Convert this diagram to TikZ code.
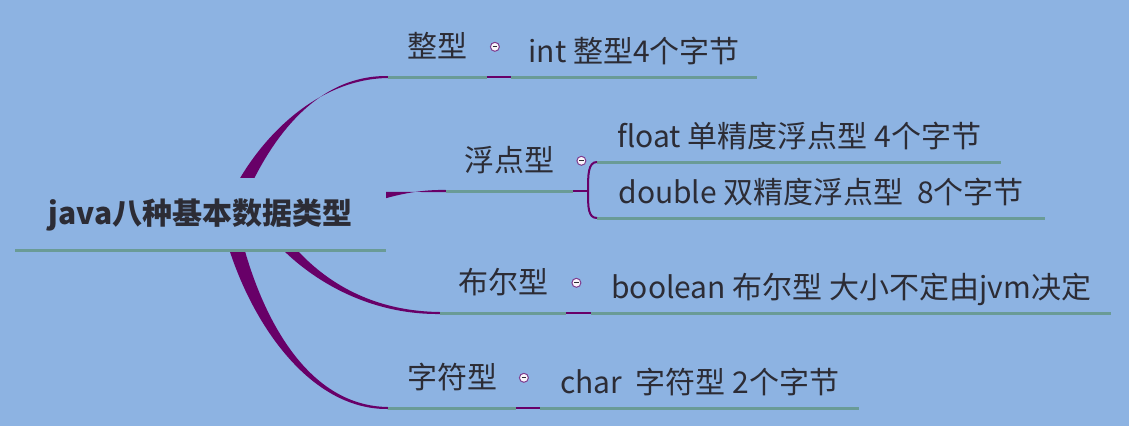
\documentclass[tikz,border=0pt]{standalone}
\usepackage{fontspec}
\setmainfont{Noto Sans CJK SC}
\usepackage{xcolor}
\usetikzlibrary{positioning,calc}

\definecolor{bgBlue}{HTML}{8DB3E2}
\definecolor{lineTeal}{HTML}{6A9B96}
\definecolor{branchPurple}{HTML}{680068}
\definecolor{inkGrey}{HTML}{2C2C35}
\definecolor{foldFill}{HTML}{FAF4FA}
\definecolor{foldLine}{HTML}{7E3C8E}

\pgfdeclarelayer{back}
\pgfsetlayers{back,main}

% tapered branch: start, control, control, end, half width at start
\newcommand\branchTo[5]{%
  \fill[branchPurple] ($(#1)+#5$) .. controls ($(#2)+#5$) and ($(#3)+(0,-2)$) .. ($(#4)+(0,-1)$)
    -- ($(#4)+(0,1)$) .. controls ($(#3)+(0,2)$) and ($(#2)-#5$) .. ($(#1)-#5$) -- cycle;}

\begin{document}
\begin{tikzpicture}[x=1pt,y=-1pt,
    topic/.style={anchor=south west, inner sep=0pt, text=inkGrey,
      font=\fontsize{30}{36}\selectfont, text height=24pt, text depth=3pt},
    subtopic/.style={topic, minimum height=60pt},
    leaf/.style={topic, minimum height=50pt},
    uline/.style={draw=lineTeal, line width=3pt},
    link/.style={draw=branchPurple, line width=2pt},
    fold/.style={circle, minimum size=9pt, inner sep=0pt, fill=foldFill,
      draw=foldLine, line width=1pt,
      path picture={\draw[line width=0.9pt, inkGrey]
        ([xshift=-2.2pt]path picture bounding box.center) --
        ([xshift=2.2pt]path picture bounding box.center);}}]
    \useasboundingbox (0,0) rectangle (1129,426);

    \node[topic, minimum width=371pt, minimum height=72pt, fill=bgBlue,
      font=\bfseries\fontsize{30}{36}\selectfont] (root) at (15,250) {java八种基本数据类型};

    \node[subtopic, minimum width=99pt] (zheng) at (388,77) {整型};
    \node[subtopic, minimum width=127pt] (fudian) at (446,191) {浮点型};
    \node[subtopic, minimum width=126pt] (buer) at (440,313) {布尔型};
    \node[subtopic, minimum width=128pt] (zifu) at (388,408) {字符型};

    \node[leaf, minimum width=246pt] (intLeaf) at (511,77) {int 整型4个字节};
    \node[leaf, minimum width=404pt] (floatLeaf) at (597,162) {float 单精度浮点型 4个字节};
    \node[leaf, minimum width=448pt] (doubleLeaf) at (597,218) {double 双精度浮点型\ \ 8个字节};
    \node[leaf, minimum width=520pt] (boolLeaf) at (591,313) {boolean 布尔型 大小不定由jvm决定};
    \node[leaf, minimum width=319pt] (charLeaf) at (540,408) {char\ \ 字符型 2个字节};

    \node[fold, right=2.5pt of zheng.east] (foldZheng) {};
    \node[fold, right=3pt of fudian.east] (foldFudian) {};
    \node[fold, right=5pt of buer.east] (foldBuer) {};
    \node[fold, right=2.5pt of zifu.east] (foldZifu) {};

    \foreach \n in {root,zheng,fudian,buer,zifu,intLeaf,floatLeaf,doubleLeaf,boolLeaf,charLeaf}
        \draw[uline] (\n.south west) -- (\n.south east);

    \draw[link] (zheng.south east) -- (intLeaf.south west);
    \draw[link] (buer.south east) -- (boolLeaf.south west);
    \draw[link] (zifu.south east) -- (charLeaf.south west);
    \coordinate (fork) at (588,191);
    \draw[link] (fudian.south east) -- (fork);
    \draw[link] (floatLeaf.south west) .. controls +(-9,0) and +(0,-16) .. (fork)
        .. controls +(0,16) and +(-9,0) .. (doubleLeaf.south west);

    \begin{pgfonlayer}{back}
        \fill[bgBlue] (0,0) rectangle (1129,426);
        \coordinate (zhengStart) at (230,215);
        \coordinate (fudianStart) at (330,212);
        \coordinate (buerStart) at (262,214);
        \coordinate (zifuStart) at (228,214);
        \branchTo{zhengStart}{255,150}{310,77}{zheng.south west}{(8,0)}
        \branchTo{fudianStart}{365,195}{405,191}{fudian.south west}{(0,8)}
        \branchTo{buerStart}{290,260}{350,313}{buer.south west}{(8,0)}
        \branchTo{zifuStart}{245,300}{300,408}{zifu.south west}{(8,0)}
    \end{pgfonlayer}
\end{tikzpicture}
\end{document}
